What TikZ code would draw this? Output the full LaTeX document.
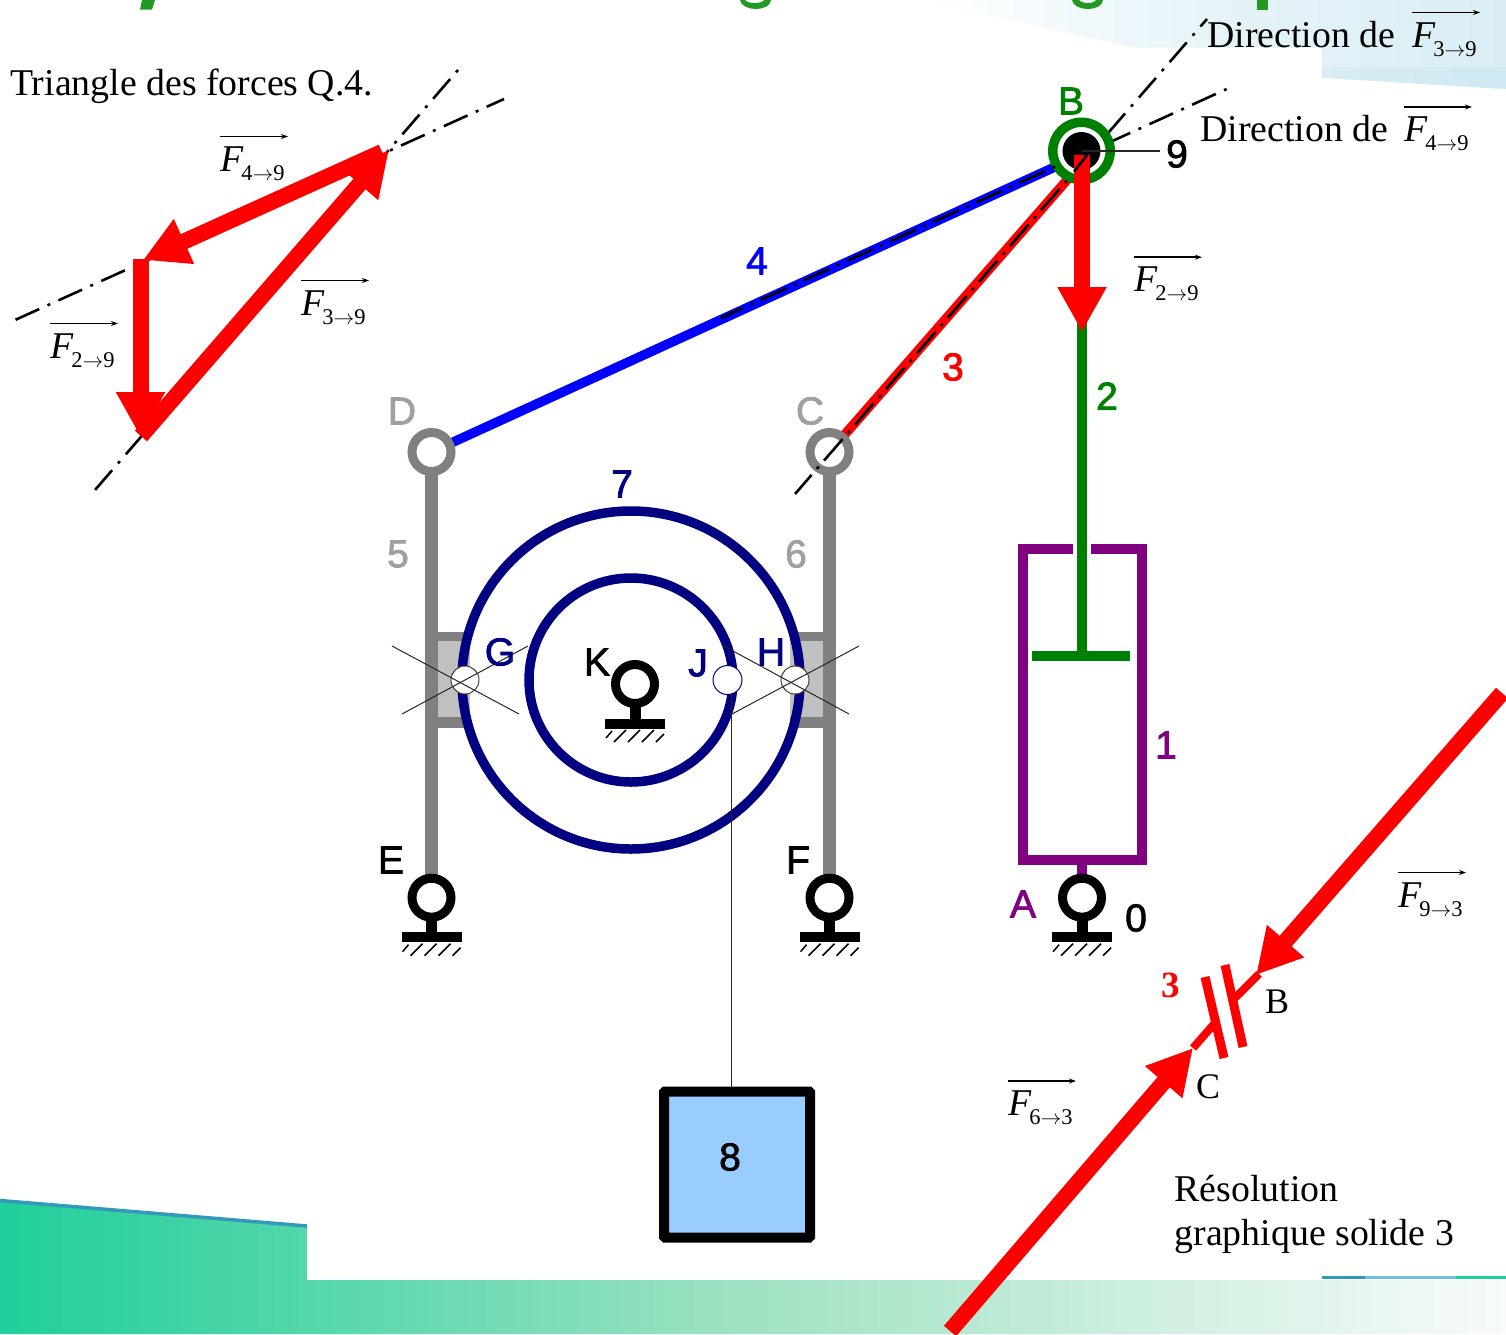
\documentclass[tikz,border=0pt]{standalone}
\usepackage{fontspec}
\setmainfont{Liberation Serif}
\newfontfamily\labfont[FakeBold=2]{Liberation Sans}
\usetikzlibrary{arrows.meta,calc}
\definecolor{navy}{HTML}{000080}
\definecolor{purp}{HTML}{800080}
\definecolor{grn}{HTML}{008000}
\definecolor{titlegrn}{HTML}{229922}
\definecolor{rodgray}{HTML}{808080}
\definecolor{labgray}{HTML}{A0A0A0}
\definecolor{blockgray}{HTML}{C0C0C0}
\definecolor{skyb}{HTML}{99CCFF}
\definecolor{tealL}{HTML}{20CF9B}
\definecolor{tealM}{HTML}{A0E2C3}
\definecolor{tealR}{HTML}{F8FBF9}
\definecolor{barblue}{HTML}{3399BB}
\definecolor{barlight}{HTML}{70C0DD}
\definecolor{skyM}{HTML}{E6F4F9}
\definecolor{skyR}{HTML}{DAEDF5}
\definecolor{skyS}{HTML}{D8EDF5}
\definecolor{skyT}{HTML}{CFE8F2}
\newcommand\ftxt[2]{\fontsize{37.8}{42}\selectfont\textit{F}\kern-2.3pt\raisebox{-9pt}{\fontsize{22.5}{25}\selectfont #1$\rightarrow$#2}}
\tikzset{
  x=1pt,y=-1pt,
  lab/.style={font=\fontsize{39}{40}\selectfont\labfont,inner sep=0pt},
  serif/.style={font=\fontsize{37.8}{42}\selectfont,inner sep=0pt,anchor=base west},
  serifB/.style={font=\fontsize{36}{38}\selectfont,inner sep=0pt,anchor=base west},
  vecarrow/.style={line width=1.5pt,-{Stealth[length=7pt,width=5pt]}},
  axisline/.style={black,line width=2.6pt,dash pattern=on 26pt off 9pt on 3pt off 9pt},
  axisdot/.style={black,line width=2.6pt,dash pattern=on 3pt off 8pt on 28.3pt off 8pt},
  force/.style={red,line width=16pt,-{Triangle[length=45pt,width=46pt]}},
  rod/.style={line width=9.5pt},
  thinline/.style={line width=1pt,black!85},
  pivot/.style={circle,draw=#1,fill=white,line width=9pt,minimum size=39pt,inner sep=0pt},
  joint/.style={circle,draw=black!75,fill=white,line width=1pt,minimum size=28pt,inner sep=0pt},
  ground/.pic={
    \draw[black,line width=9pt,fill=white] (0,0) circle[radius=19.5];
    \fill[black] (-5.5,22) rectangle (5.5,36);
    \fill[black] (-30,34.5) rectangle (30,44.5);
    \foreach \a in {-21,-7,7} \draw[black,line width=1.5pt] (\a,58) -- (\a+12,46);
    \draw[black,line width=1.5pt] (21,58) -- (29,50);
    \draw[black,line width=1.5pt] (-29,54) -- (-23,47);
  }
}
\newcommand\vecF[5]{%
  \node[serif] (#1) at (#2,#3) {\ftxt{#4}{#5}};
}
\begin{document}
\begin{tikzpicture}
\useasboundingbox (0,0) rectangle (1506,1334);
% backgrounds
\path[left color=white,right color=skyR,middle color=skyM] (920,0) -- (1135,47.7) -- (1322,47.7) -- (1322,77.7) -- (1506,89) -- (1506,0) -- cycle;
\path[left color=skyS,right color=skyT] (1322,67) -- (1506,67) -- (1506,89) -- (1322,77.7) -- cycle;
\path[left color=tealL,right color=tealR,middle color=tealM] (0,1200) -- (307,1226) -- (307,1280) -- (1506,1280) -- (1506,1334) -- (0,1334) -- cycle;
\draw[barblue,line width=3.5pt] (0,1200.5) -- (307,1226);
\fill[barblue] (1322,1275.5) rectangle (1365,1279);
\fill[barlight] (1365,1275.5) rectangle (1456,1279);
\fill[tealL] (1456,1275.5) rectangle (1506,1279);
% title fragments
\fill[titlegrn] (142,0) -- (155,0) -- (152,9.5) -- (140,9.5) -- cycle;
\fill[titlegrn] (740,0) -- (745,0) .. controls (748,4) and (762,4) .. (764,0) -- (771,0) .. controls (770,12) and (742,12) .. (740,0) -- cycle;
\fill[titlegrn] (1072,0) -- (1079,0) .. controls (1082,4) and (1094,4) .. (1096,0) -- (1103,0) .. controls (1102,12) and (1074,12) .. (1072,0) -- cycle;
\fill[titlegrn] (1257,0) rectangle (1268,9.5);

% named coordinates
\coordinate (B) at (1081.5,151);
\coordinate (B3) at (1081,164);
\coordinate (B4) at (1081,155);
\coordinate (C) at (829.5,452);
\coordinate (D) at (431.5,452);
\coordinate (E) at (431.5,897.7);
\coordinate (F) at (829.5,897.7);
\coordinate (A) at (1082,897.7);
\coordinate (K) at (635,684);
\coordinate (O) at (631,680);

% block side pieces
\fill[rodgray] (431.5,632) rectangle (470,728);
\fill[blockgray] (437,641) rectangle (470,717);
\fill[rodgray] (790,632) rectangle (829.5,728);
\fill[blockgray] (790,641) rectangle (824,717);
% gray rods
\draw[rodgray,line width=12.5pt] (D) -- (E);
\draw[rodgray,line width=12.5pt] (C) -- (F);
% links
\draw[blue,rod] (D) -- (B4);
\draw[red,rod] (C) -- (B3);
\draw[grn,line width=10pt] (1082,300) -- (1082,655);
\draw[grn,line width=10pt] (1032,655.5) -- (1130,655.5);
% cylinder
\draw[purp,line width=10pt] (1073,549) -- (1023,549) -- (1023,860) -- (1142,860) -- (1142,549) -- (1091,549);
\draw[purp,line width=10pt] (1082,860) -- (1082,880);
% pivots
\node[pivot=rodgray] (Dring) at (D) {};
\node[pivot=rodgray] (Cring) at (C) {};
\pic at (E) {ground};
\pic at (F) {ground};
\pic at (A) {ground};
\pic at (K) {ground};
% wheels
\draw[navy,line width=9.5pt] (O) circle[radius=169];
\draw[navy,line width=9.5pt] (O) circle[radius=102];
% joints
\node[joint] (G) at (465,680) {};
\node[joint] (H) at (795,680) {};
\node[circle,draw=navy,fill=white,line width=1pt,minimum size=29pt,inner sep=0pt] (J) at (727.5,680) {};
\draw[thinline] (392,646) -- (519,714);
\draw[thinline] (402,714) -- (528,646);
\draw[thinline] (722,645) -- (849,714);
\draw[thinline] (732,714) -- (859,646);
% block 8
\node[draw=black,line width=10pt,fill=skyb,minimum size=146pt,inner sep=0pt,rounded corners=1pt] (M) at (737,1164.5) {};
\coordinate (Jb) at (731.5,693);
\coordinate (Mt) at (731.5,1088);
\draw[thinline] (Jb) -- (Mt);
% dash-dot axis near B upper
\draw[axisline,dash phase=16pt] (1207,19) -- (1105,136.6);
\draw[axisline,dash pattern=on 3pt off 9pt on 26pt off 9pt] (1226.7,89) -- (1108,143);
% B joint
\draw[grn,line width=9.5pt,fill=white] (B) circle[radius=28.75];
\fill[black] (B) circle[radius=19];
\coordinate (nineL) at (1160,151);
\draw[line width=1.2pt,black!85] (B) -- (nineL);
% F2->9 on mechanism
\coordinate (f2s) at (1082,155);
\coordinate (f2t) at (1082,332);
\draw[force] (f2s) -- (f2t);
% lower axes over links
\draw[black,line width=2.6pt] (1087,155) -- (1074,171.7);
\draw[axisdot] (1066.7,180.7) -- (795,494);
\draw[axisdot] (1055,166.7) -- (720.7,318);
% triangle of forces
\draw[axisline,dash pattern=on 3pt off 9pt on 26pt off 9pt] (458,70) -- (95,490);
\draw[axisline,dash phase=7pt] (504,99) -- (15,320);
\coordinate (t1) at (389,150);
\coordinate (t2) at (140.5,259);
\coordinate (t3) at (140.5,437);
\coordinate (t3s) at (141,436);
\coordinate (t1s) at (382,152);
\coordinate (t2t) at (143,260);
\draw[force] (t2) -- (t3);
\draw[force] (t3s) -- (t1);
\draw[force] (t1s) -- (t2t);
% solide 3
\coordinate (b3s) at (1502,693);
\coordinate (b3t) at (1256,975);
\coordinate (c3s) at (950,1331);
\coordinate (c3t) at (1193,1048);
\draw[force] (b3s) -- (b3t);
\draw[force] (c3s) -- (c3t);
\draw[red,line width=8pt] (1259,974) -- (1231,1002);
\draw[red,line width=8pt] (1193,1048) -- (1214,1024);
\draw[red,line width=9pt] (1205,977) -- (1224,1058);
\draw[red,line width=9pt] (1225,965) -- (1243,1047);
% text
\node[serif] (titreT) at (10,95) {Triangle des forces Q.4.};
\vecF{v49}{220}{171}{4}{9}
\vecF{v39}{301}{315}{3}{9}
\vecF{v29}{50}{358}{2}{9}
\node[serif] (dir3) at (1207,47) {Direction de};
\vecF{w39}{1412}{47}{3}{9}
\node[serif] (dir4) at (1200,141.5) {Direction de};
\vecF{w49}{1404}{141.5}{4}{9}
\vecF{w29}{1134}{291.7}{2}{9}
\vecF{u93}{1398}{907}{9}{3}
\vecF{u63}{1008}{1115.5}{6}{3}
\foreach \n in {v49,v39,v29,w39,w49,w29,u93,u63}
  \draw[vecarrow] ($(\n.base west)+(0,-34.5)$) -- +(68,0);
\node[serifB] (lB) at (1265,1013) {B};
\node[serifB] (lC) at (1196,1098) {C};
\node[serif] (res1) at (1174.5,1201) {Résolution};
\node[serif] (res2) at (1174.5,1245) {graphique solide 3};
\node[serif,font=\fontsize{37}{40}\selectfont\bfseries,text=red] (l3b) at (1161,997) {3};
\node[lab,text=grn] (nB) at (1071,101) {B};
\node[lab,text=black] (n9) at (1177,154) {9};
\node[lab,text=blue] (n4) at (757,261) {4};
\node[lab,text=red] (n3) at (953,367) {3};
\node[lab,text=grn] (n2) at (1107,396) {2};
\node[lab,text=labgray] (nD) at (402,411) {D};
\node[lab,text=labgray] (nC) at (810,411) {C};
\node[lab,text=labgray] (n5) at (398,554) {5};
\node[lab,text=labgray] (n6) at (796,554) {6};
\node[lab,text=navy] (n7) at (622,484) {7};
\node[lab,text=navy] (nG) at (500,652) {G};
\node[lab,text=navy] (nH) at (771,652) {H};
\node[lab,text=navy] (nJ) at (698,663) {J};
\node[lab,text=black] (nK) at (597,662) {K};
\node[lab,text=black] (nE) at (391,860) {E};
\node[lab,text=black] (nF) at (798,860) {F};
\node[lab,text=purp] (nA) at (1023,904) {A};
\node[lab,text=black] (n0) at (1136,918) {0};
\node[lab,text=purp] (n1) at (1166,745) {1};
\node[lab,text=black] (n8) at (730,1157) {8};
\end{tikzpicture}
\end{document}
